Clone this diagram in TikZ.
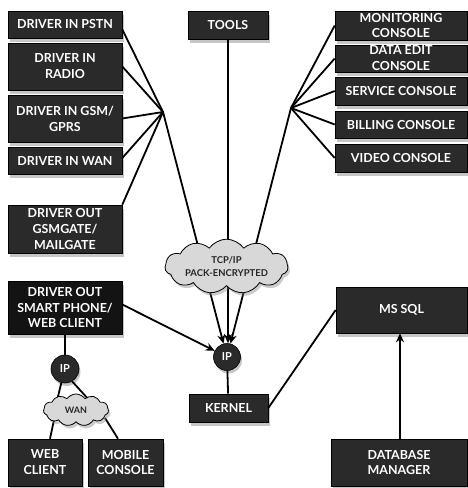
\documentclass[tikz,border=0pt]{standalone}
\usepackage{fontspec}
\setmainfont{Lato}
\usetikzlibrary{shapes.symbols,shadows,arrows.meta,calc}
\definecolor{boxgray}{HTML}{2A2A2A}
\definecolor{boxdark}{HTML}{131313}
\definecolor{cloudgray}{HTML}{D8D8D8}
\begin{document}
\begin{tikzpicture}[x=1bp,y=-1bp,
  box/.style={rectangle, fill=boxgray, draw=black, line width=0.6bp, text=white,
    font=\bfseries\fontsize{12.5}{16}\selectfont, align=center, inner sep=0pt,
    drop shadow={shadow xshift=2bp, shadow yshift=-4bp, opacity=0.45}},
  ipnode/.style={circle, fill=boxgray, draw=black, line width=0.6bp, text=white,
    font=\bfseries\fontsize{11}{13}\selectfont, inner sep=0pt,
    drop shadow={shadow xshift=1.5bp, shadow yshift=-3bp, opacity=0.45}},
  cloudnode/.style={cloud, cloud puffs=11, cloud puff arc=110, aspect=3, fill=cloudgray,
    draw=black, line width=0.8bp, align=center, inner sep=0pt, text=black!85,
    drop shadow={shadow xshift=2bp, shadow yshift=-3bp, opacity=0.4}},
  link/.style={draw=black, line width=1.8bp},
  arr/.style={link, -{Stealth[length=9bp,width=8bp]}}
]
\useasboundingbox (0,0) rectangle (468,488);

% left drivers
\node[box, minimum width=114bp, minimum height=27bp] (pstn) at (65,24.5) {DRIVER IN PSTN};
\node[box, minimum width=114bp, minimum height=47bp] (radio) at (65,66.5) {DRIVER IN\\RADIO};
\node[box, minimum width=114bp, minimum height=47bp] (gsm) at (65,118.5) {DRIVER IN GSM/\\GPRS};
\node[box, minimum width=114bp, minimum height=27bp] (wanin) at (65,160.5) {DRIVER IN WAN};
\node[box, minimum width=114bp, minimum height=48bp] (gate) at (65,229) {DRIVER OUT\\GSMGATE/\\MAILGATE};
\node[box, fill=boxdark, minimum width=114bp, minimum height=53bp] (sp) at (65,307.5) {DRIVER OUT\\SMART PHONE/\\WEB CLIENT};
\node[box, minimum width=74bp, minimum height=47bp] (web) at (45,462.5) {WEB\\CLIENT};
\node[box, minimum width=75bp, minimum height=47bp] (mob) at (125.5,462.5) {MOBILE\\CONSOLE};

% centre
\node[box, minimum width=80bp, minimum height=28bp] (tools) at (228,25) {TOOLS};
\node[box, minimum width=79bp, minimum height=28bp] (kernel) at (228.5,408) {KERNEL};

% right consoles
\node[box, minimum width=132bp, minimum height=29bp] (mon) at (401,25.5) {MONITORING\\CONSOLE};
\node[box, minimum width=132bp, minimum height=27bp] (dedit) at (401,58.5) {DATA EDIT\\CONSOLE};
\node[box, minimum width=132bp, minimum height=28bp] (serv) at (401,91) {SERVICE CONSOLE};
\node[box, minimum width=132bp, minimum height=27bp] (bill) at (401,124.5) {BILLING CONSOLE};
\node[box, minimum width=132bp, minimum height=28bp] (video) at (401,158) {VIDEO CONSOLE};
\node[box, minimum width=131bp, minimum height=46bp] (mssql) at (401.5,310) {MS SQL};
\node[box, minimum width=136bp, minimum height=47bp] (dbm) at (399,462.5) {DATABASE\\MANAGER};

% fan points
\coordinate (lf) at (163,112);
\coordinate (rf) at (291,108);

\coordinate (ipc) at (227,357);
\coordinate (ip2c) at (65,369);

% connectors to the left fan
\draw[link] ([yshift=-5bp]pstn.east) -- (lf);
\draw[link] (radio.east) -- (lf);
\draw[link] (gsm.east) -- (lf);
\draw[link] ([yshift=2.5bp]wanin.east) -- (lf);
\draw[link] (gate.north east) -- (lf);

% connectors to the right fan
\draw[link] (mon.west) -- (rf);
\draw[link] (dedit.west) -- (rf);
\draw[link] (serv.west) -- (rf);
\draw[link] (bill.west) -- (rf);
\draw[link] (video.west) -- (rf);

% IP circles
\node[ipnode, minimum size=27bp] (ip) at (ipc) {IP};
\node[ipnode, minimum size=28bp] (ip2) at (ip2c) {IP};

% arrows to IP (behind the cloud)
\draw[arr] (lf) -- (ip);
\draw[arr] (tools.south) -- (tools.south |- ip.north);
\draw[arr] (rf) -- (ip);
\draw[arr] ([yshift=3bp]sp.east) -- (ip);

% kernel and database
\draw[link] (ip) -- (kernel);
\draw[link] (kernel.east) -- (mssql.west);
\draw[arr] (dbm.north -| 400,0) -- (mssql.south -| 400,0);

% small IP / WAN
\draw[link] (sp.south) -- (ip2);
\coordinate (wl) at (56,405);
\coordinate (wr) at (90,401);
\coordinate (wbl) at (54,420);
\coordinate (wbr) at (105,418);
\draw[link] (ip2.255) -- (wl);
\draw[link] (ip2.300) -- (wr);
\draw[link] (wbl) -- ([xshift=5bp]web.north);
\draw[link] (wbr) -- ([xshift=-7.5bp]mob.north);

% clouds
\node[cloudnode, minimum width=123bp, minimum height=43bp,
  font=\bfseries\fontsize{9.5}{12.5}\selectfont] (tcp) at (226.5,266.5) {TCP/IP\\PACK-ENCRYPTED};
\node[cloudnode, minimum width=65bp, minimum height=32bp,
  font=\bfseries\fontsize{9}{10}\selectfont] (wan) at (76,410) {WAN};
\end{tikzpicture}
\end{document}
